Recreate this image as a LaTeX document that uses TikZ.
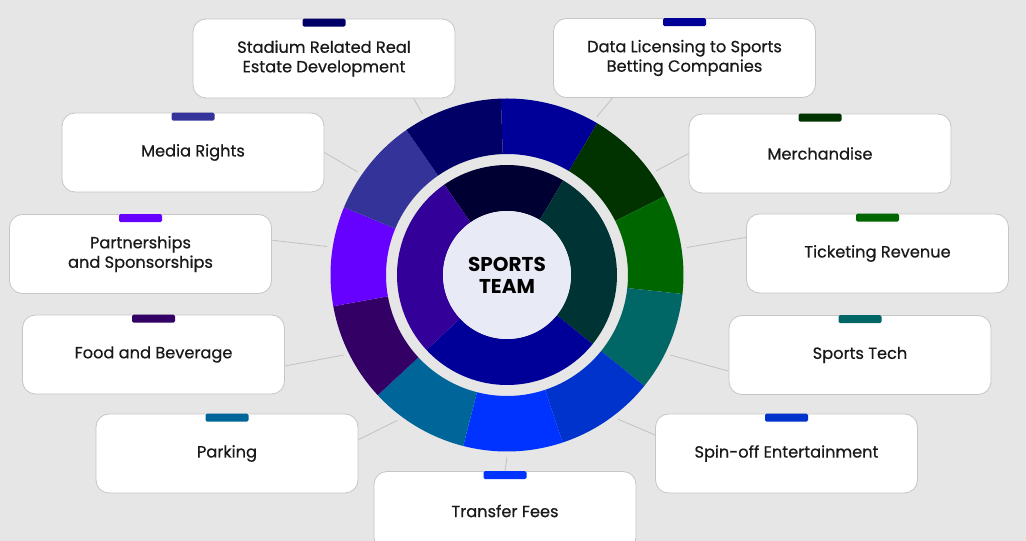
\documentclass[tikz,border=0pt]{standalone}
\usepackage{fontspec}
\setmainfont{Poppins}
\newfontfamily\cardfont{Poppins}[FakeBold=0.6]
\usetikzlibrary{calc}

\definecolor{bgray}{HTML}{E6E6E6}
\definecolor{cardline}{HTML}{C6C6C6}
\definecolor{linkgray}{HTML}{C2C2C2}
\definecolor{hubfill}{HTML}{E8EAF6}
\definecolor{navyA}{HTML}{000066}
\definecolor{navyB}{HTML}{000099}
\definecolor{greenA}{HTML}{003300}
\definecolor{greenB}{HTML}{006600}
\definecolor{tealA}{HTML}{006666}
\definecolor{blueA}{HTML}{0033CC}
\definecolor{blueB}{HTML}{0033FF}
\definecolor{tealB}{HTML}{006699}
\definecolor{purpleA}{HTML}{330066}
\definecolor{violetA}{HTML}{6600FF}
\definecolor{indigoA}{HTML}{333399}
\definecolor{innerTop}{HTML}{000033}
\definecolor{innerRight}{HTML}{003333}
\definecolor{innerBottom}{HTML}{000099}
\definecolor{innerLeft}{HTML}{330099}

\begin{document}
\begin{tikzpicture}[x=1pt,y=1pt,
  card/.style={draw=cardline, fill=white, line width=0.8pt, rounded corners=13pt,
    minimum width=262pt, minimum height=79pt, align=center,
    font=\cardfont\fontsize{16.2}{19.5}\selectfont, text=black!90},
  link/.style={draw=linkgray, line width=0.8pt}]
\useasboundingbox (0,0) rectangle (1026,541);
\fill[bgray] (0,0) rectangle (1026,541);
\clip (0,0) rectangle (1026,541);

\coordinate (ctr) at (507,266);

% outer ring, eleven sectors
\foreach \col [count=\i from 0] in {navyB,greenA,greenB,tealA,blueA,blueB,tealB,purpleA,violetA,indigoA,navyA}{
  \pgfmathsetmacro{\a}{92-32.7273*\i}
  \pgfmathsetmacro{\b}{\a-32.7273}
  \fill[\col] ($(ctr)+(\a:176.5)$) arc[start angle=\a, end angle=\b, radius=176.5]
    -- ($(ctr)+(\b:121)$) arc[start angle=\b, end angle=\a, radius=121] -- cycle;
}

% inner ring, four groups
\foreach \a/\b/\col in {124.73/59.27/innerTop, 59.27/-38.91/innerRight, -38.91/-137.09/innerBottom, -137.09/-235.27/innerLeft}{
  \fill[\col] ($(ctr)+(\a:110)$) arc[start angle=\a, end angle=\b, radius=110]
    -- ($(ctr)+(\b:64)$) arc[start angle=\b, end angle=\a, radius=64] -- cycle;
}

\node[circle, fill=hubfill, minimum size=128pt, inner sep=0pt, align=center,
  font=\bfseries\fontsize{20}{22}\selectfont] (hub) at (ctr) {SPORTS\\TEAM};

% cards
\node[card] (stadium) at (324,482.5) {Stadium Related Real\\Estate Development};
\node[card] (data) at (684.5,483) {Data Licensing to Sports\\Betting Companies};
\node[card] (merch) at (820,387.5) {Merchandise};
\node[card] (ticket) at (877.5,287.5) {Ticketing Revenue};
\node[card] (tech) at (860,186) {Sports Tech};
\node[card] (spinoff) at (786.5,87.5) {Spin-off Entertainment};
\node[card] (transfer) at (505,30) {Transfer Fees};
\node[card] (parking) at (227,87.5) {Parking};
\node[card] (food) at (153.5,186.5) {Food and Beverage};
\node[card] (partner) at (140.5,287) {Partnerships\\and Sponsorships};
\node[card] (media) at (193,388.5) {Media Rights};

% colour tabs
\foreach \n/\col in {stadium/navyA, data/navyB, merch/greenA, ticket/greenB, tech/tealA,
    spinoff/blueA, transfer/blueB, parking/tealB, food/purpleA, partner/violetA, media/indigoA}{
  \fill[\col, rounded corners=1.5pt] ([xshift=-21.5pt]\n.north) rectangle ([xshift=21.5pt,yshift=-8pt]\n.north);
}

% connectors
\foreach \n/\ang/\anc in {stadium/117.7/-24.4, data/60.4/-151.8, merch/34.9/180, ticket/8.7/173.4,
    tech/-26.1/-173.7, spinoff/-52.4/172, transfer/-90/north, parking/-127/6.2,
    food/-153.9/-5.6, partner/171/6.9, media/145.4/0}{
  \path (ctr) ++(\ang:182) coordinate (r-\n);
  \draw[link] (r-\n) -- (\n.\anc);
}
\end{tikzpicture}
\end{document}
